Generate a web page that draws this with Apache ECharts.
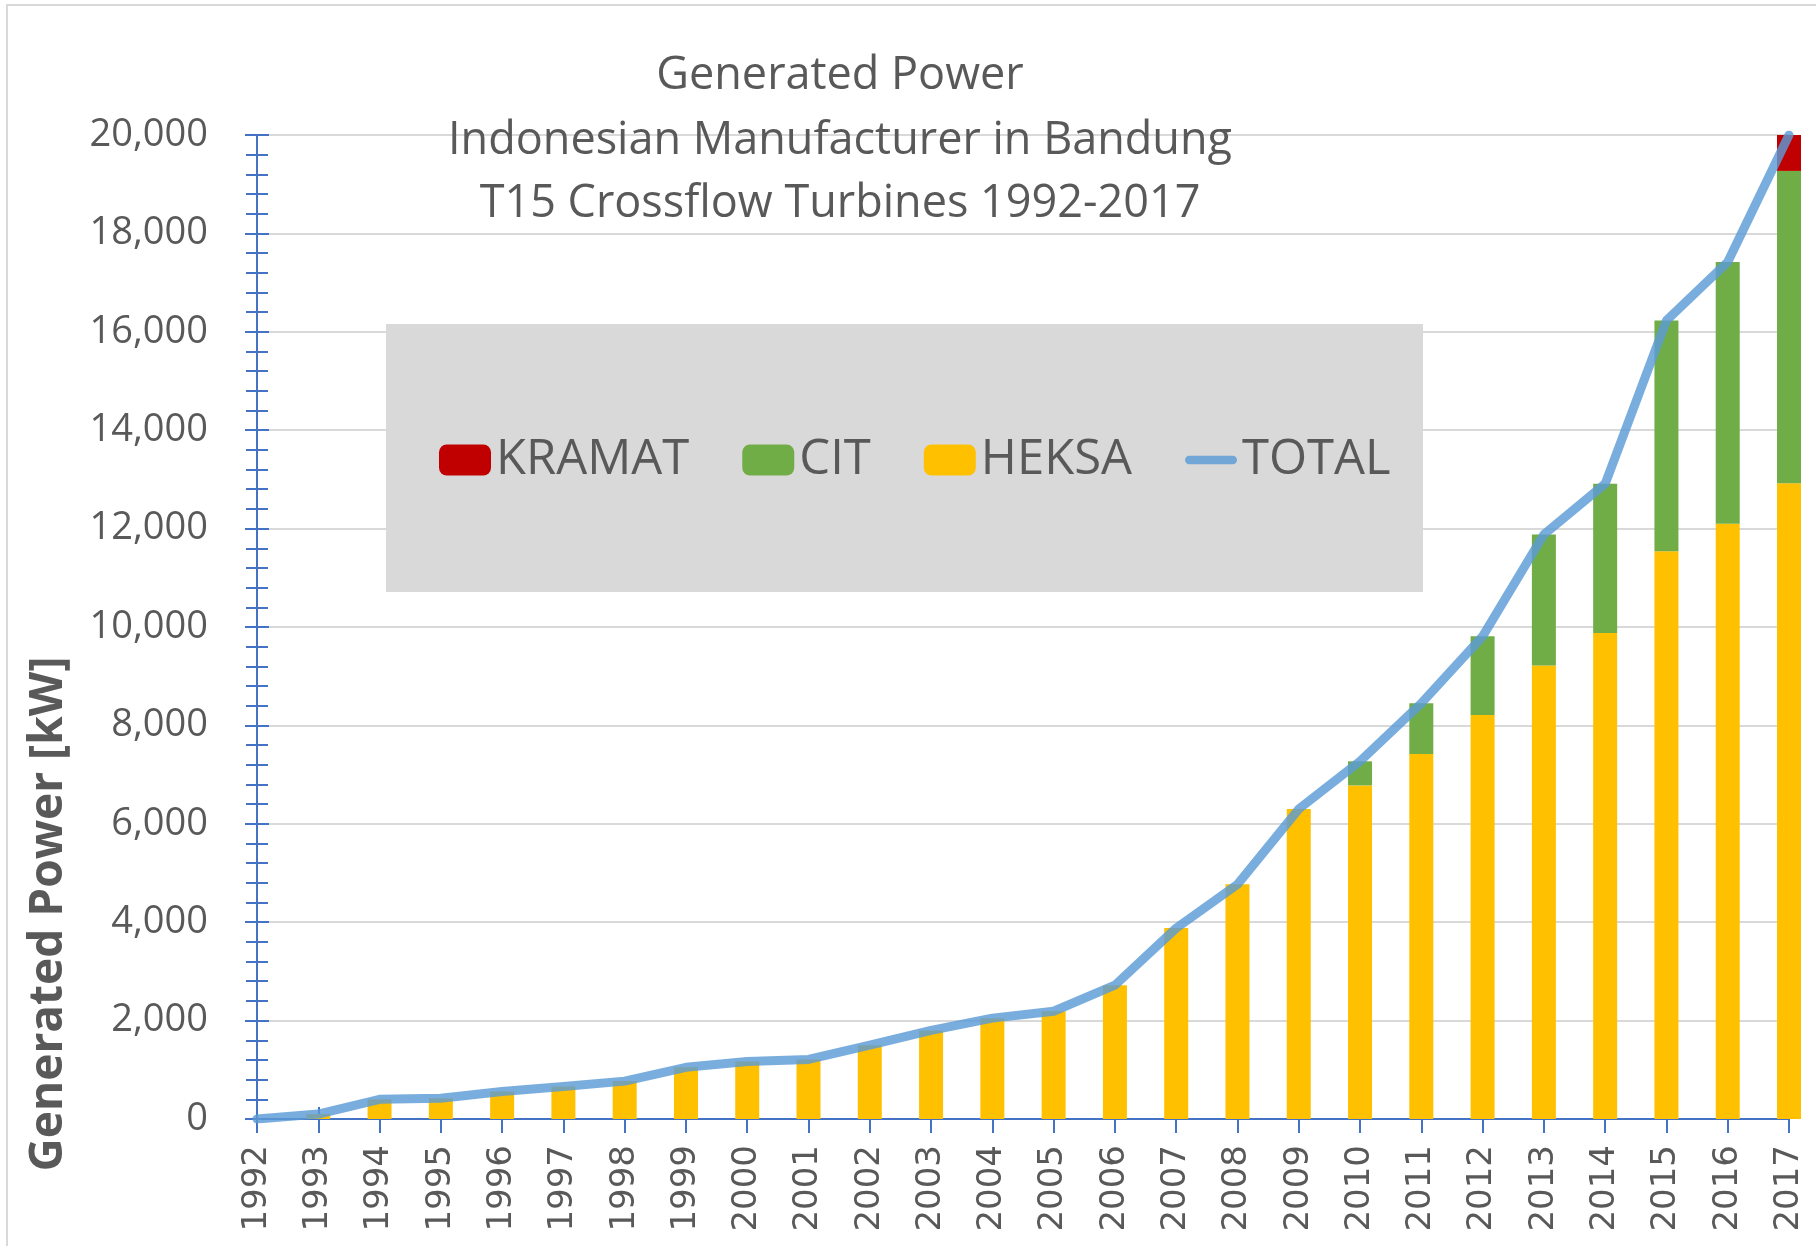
<!DOCTYPE html>
<html>
<head>
<meta charset="UTF-8">
<title>Generated Power</title>
<script src="https://cdn.jsdelivr.net/npm/echarts@6/dist/echarts.min.js"></script>
<style>
  body { margin: 0; background: #fff; }
  #chart { position: absolute; left: 0; top: 0; width: 1816px; height: 1246px; }
  .frame { position: absolute; left: 6px; top: 4px; width: 1810px; height: 1242px;
           border-left: 2px solid #d9d9d9; border-top: 2px solid #d9d9d9; pointer-events: none; }
</style>
</head>
<body>
<div id="chart"></div>
<div class="frame"></div>
<script>
var years = ['1992','1993','1994','1995','1996','1997','1998','1999','2000','2001','2002','2003','2004',
             '2005','2006','2007','2008','2009','2010','2011','2012','2013','2014','2015','2016','2017'];

var heksa  = [0, 100, 400, 420, 560, 660, 770, 1050, 1170, 1210, 1500, 1800, 2050,
              2190, 2720, 3880, 4770, 6300, 6780, 7420, 8210, 9220, 9880, 11540, 12100, 12920];
var cit    = [0, 0, 0, 0, 0, 0, 0, 0, 0, 0, 0, 0, 0,
              0, 0, 0, 0, 0, 490, 1030, 1600, 2660, 3030, 4690, 5320, 6350];
var kramat = [0, 0, 0, 0, 0, 0, 0, 0, 0, 0, 0, 0, 0,
              0, 0, 0, 0, 0, 0, 0, 0, 0, 0, 0, 0, 730];
var total  = [0, 100, 400, 420, 560, 660, 770, 1050, 1170, 1210, 1500, 1800, 2050,
              2190, 2720, 3880, 4770, 6300, 7270, 8450, 9810, 11880, 12910, 16230, 17420, 20000];

var titleLines = ['Generated Power', 'Indonesian Manufacturer in Bandung', 'T15 Crossflow Turbines 1992-2017'];

var axisBlue = '#4472C4';
var textGray = '#595959';
var lineBlue = 'rgba(91,155,213,0.82)';

function fmt(v) {
    return String(v).replace(/\B(?=(\d{3})+(?!\d))/g, ',');
}

var chart = echarts.init(document.getElementById('chart'));

var graphics = [
    { type: 'rect', z: 1, shape: { x: 386, y: 324, width: 1037, height: 268 }, style: { fill: '#d9d9d9' } },
    { type: 'text', x: 49, y: 914, rotation: Math.PI / 2, z: 5,
      style: { text: 'Generated Power [kW]', textAlign: 'center', textVerticalAlign: 'middle',
               align: 'center', verticalAlign: 'middle',
               font: 'bold 46px "Open Sans"', fill: textGray } }
];
var titleY = [76, 141, 204];
for (var i = 0; i < titleLines.length; i++) {
    graphics.push({ type: 'text', x: 840, y: titleY[i], z: 5,
        style: { text: titleLines[i], textAlign: 'center', textVerticalAlign: 'middle',
                 align: 'center', verticalAlign: 'middle',
                 font: '45px "Open Sans"', fill: textGray } });
}

var option = {
    animation: false,
    backgroundColor: '#fff',
    grid: { left: 257, right: 27, top: 135, bottom: 127, containLabel: false },
    graphic: graphics,
    legend: {
        left: 439, top: 435, padding: 0,
        itemWidth: 52, itemHeight: 31, itemGap: 53,
        textStyle: { fontFamily: 'Open Sans', fontSize: 49, lineHeight: 50, color: textGray },
        data: [
            { name: 'KRAMAT' },
            { name: 'CIT' },
            { name: 'HEKSA' },
            { name: 'TOTAL', icon: 'path://M4.5,0 L51.5,0 A4.5,4.5 0 0 1 51.5,9 L4.5,9 A4.5,4.5 0 0 1 4.5,0 Z',
              itemStyle: { color: lineBlue } }
        ]
    },
    xAxis: [{
        type: 'category', data: years, boundaryGap: false, position: 'bottom',
        axisLine: { lineStyle: { color: axisBlue, width: 2 } },
        axisTick: { show: true, inside: false, length: 14, lineStyle: { color: axisBlue, width: 2 } },
        axisLabel: { rotate: 90, margin: 26, fontFamily: 'DejaVu Sans', fontSize: 34, color: textGray, interval: 0 },
        splitLine: { show: false }
    }, {
        type: 'category', data: years, boundaryGap: false, position: 'bottom',
        axisLine: { lineStyle: { color: axisBlue, width: 2 } },
        axisTick: { show: true, inside: true, length: 12, lineStyle: { color: axisBlue, width: 2 } },
        axisLabel: { show: false },
        splitLine: { show: false }
    }],
    yAxis: [{
        type: 'value', min: 0, max: 20000, interval: 2000, position: 'left',
        axisLine: { show: true, lineStyle: { color: axisBlue, width: 2 } },
        axisTick: { show: true, inside: false, length: 12, lineStyle: { color: axisBlue, width: 2 } },
        minorTick: { show: true, splitNumber: 5, length: 11, lineStyle: { color: axisBlue, width: 2 } },
        splitLine: { lineStyle: { color: '#d9d9d9', width: 2 } },
        axisLabel: { margin: 49, fontFamily: 'Open Sans', fontSize: 38, color: textGray, formatter: fmt }
    }, {
        type: 'value', min: 0, max: 20000, interval: 2000, position: 'left',
        axisLine: { show: true, lineStyle: { color: axisBlue, width: 2 } },
        axisTick: { show: true, inside: true, length: 12, lineStyle: { color: axisBlue, width: 2 } },
        minorTick: { show: true, splitNumber: 5, length: 11, lineStyle: { color: axisBlue, width: 2 } },
        splitLine: { show: false },
        axisLabel: { show: false }
    }],
    series: [
        { name: 'HEKSA', type: 'bar', stack: 'p', barWidth: 24, data: heksa, itemStyle: { color: '#FFC000' } },
        { name: 'CIT', type: 'bar', stack: 'p', barWidth: 24, data: cit, itemStyle: { color: '#70AD47' } },
        { name: 'KRAMAT', type: 'bar', stack: 'p', barWidth: 24, data: kramat, itemStyle: { color: '#C00000' } },
        { name: 'TOTAL', type: 'line', data: total, symbol: 'none', showSymbol: false, z: 3,
          lineStyle: { width: 9, color: lineBlue, cap: 'round', join: 'round' },
          itemStyle: { color: lineBlue } }
    ]
};

chart.setOption(option);
</script>
</body>
</html>
